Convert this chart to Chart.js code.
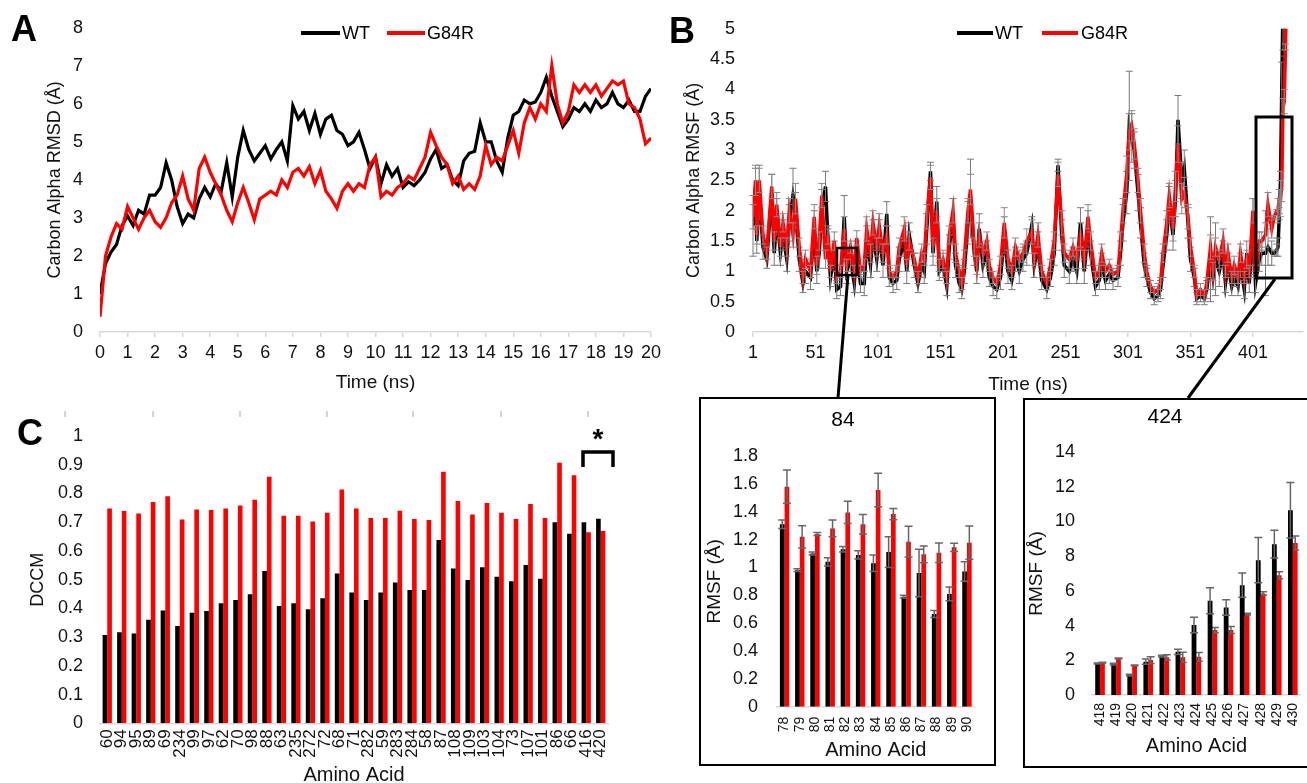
<!DOCTYPE html>
<html><head><meta charset="utf-8">
<script src="https://cdn.jsdelivr.net/npm/chart.js@4.4.0/dist/chart.umd.min.js"></script>
<style>
html,body{margin:0;padding:0;width:1307px;height:783px;overflow:hidden;background:#fff;font-family:"Liberation Sans",Arial,sans-serif;color:#000;}
canvas{position:absolute;}
.t{position:absolute;white-space:nowrap;}
.letter{position:absolute;font-weight:bold;font-size:36px;line-height:1;}
.lg{position:absolute;height:4px;}
.box{position:absolute;box-sizing:border-box;border:2.5px solid #000;}
</style></head><body>

<canvas id="cA" width="670" height="400" style="left:0;top:0;width:670px;height:400px"></canvas>
<canvas id="cB" width="637" height="400" style="left:670px;top:0;width:637px;height:400px"></canvas>
<canvas id="cC" width="670" height="390" style="left:0;top:400px;width:670px;height:390px"></canvas>
<div class="box" style="left:699px;top:397px;width:297px;height:369px"></div>
<div class="box" style="left:1023px;top:398px;width:300px;height:370px"></div>
<canvas id="c84" width="293" height="365" style="left:701px;top:399px;width:293px;height:365px"></canvas>
<canvas id="c424" width="293" height="366" style="left:1025px;top:400px;width:293px;height:366px"></canvas>

<div class="letter" style="left:11px;top:11px">A</div>
<div class="letter" style="left:669px;top:13px">B</div>
<div class="letter" style="left:17px;top:415px">C</div>

<div class="lg" style="left:301px;top:31px;width:39px;background:#000"></div>
<div class="t" style="left:342px;top:24px;font-size:18px;line-height:18px">WT</div>
<div class="lg" style="left:387px;top:31px;width:38px;background:#ff0000"></div>
<div class="t" style="left:427px;top:24px;font-size:18px;line-height:18px">G84R</div>

<div class="lg" style="left:957px;top:31px;width:36px;background:#000"></div>
<div class="t" style="left:995px;top:24px;font-size:18px;line-height:18px">WT</div>
<div class="lg" style="left:1042px;top:31px;width:36px;background:#ff0000"></div>
<div class="t" style="left:1081px;top:24px;font-size:18px;line-height:18px">G84R</div>

<div class="t" style="left:793px;top:407px;width:100px;text-align:center;font-size:21px;line-height:24px">84</div>
<div class="t" style="left:1115px;top:404px;width:100px;text-align:center;font-size:21px;line-height:24px">424</div>
<div class="t" style="left:583px;top:425px;width:30px;text-align:center;font-size:28px;font-weight:bold;line-height:1">*</div>

<svg width="1307" height="783" style="position:absolute;left:0;top:0;pointer-events:none">
  <g stroke="#000" fill="none">
    <rect x="837" y="248" width="20" height="27" stroke-width="2.5"/>
    <rect x="1256" y="117" width="36" height="161" stroke-width="3"/>
    <line x1="848" y1="275" x2="838" y2="398" stroke-width="3"/>
    <line x1="1275" y1="279" x2="1188" y2="398" stroke-width="3"/>
    <polyline points="583,467 583,452 613,452 613,467" stroke-width="3.5"/>
  </g>
  <g stroke="#d4d4d4" stroke-width="2">
    <line x1="65" y1="411" x2="65" y2="417"/><line x1="153" y1="411" x2="153" y2="417"/>
    <line x1="240" y1="411" x2="240" y2="417"/><line x1="327" y1="411" x2="327" y2="417"/>
    <line x1="413" y1="411" x2="413" y2="417"/><line x1="501" y1="411" x2="501" y2="417"/>
    <line x1="588" y1="411" x2="588" y2="417"/>
  </g>
</svg>

<script>
// ---------- Panel A data ----------
const timeA = [0,0.2,0.4,0.6,0.8,1.0,1.2,1.4,1.6,1.8,
2.0,2.2,2.4,2.6,2.8,3.0,3.2,3.4,3.6,3.8,
4.0,4.2,4.4,4.6,4.8,5.0,5.2,5.4,5.6,5.8,
6.0,6.2,6.4,6.6,6.8,7.0,7.2,7.4,7.6,7.8,
8.0,8.2,8.4,8.6,8.8,9.0,9.2,9.4,9.6,9.8,
10.0,10.2,10.4,10.6,10.8,11.0,11.2,11.4,11.6,11.8,
12.0,12.2,12.4,12.6,12.8,13.0,13.2,13.4,13.6,13.8,
14.0,14.2,14.4,14.6,14.8,15.0,15.2,15.4,15.6,15.8,
16.0,16.2,16.4,16.6,16.8,17.0,17.2,17.4,17.6,17.8,
18.0,18.2,18.4,18.6,18.8,19.0,19.2,19.4,19.6,19.8,
20.0];
const rmsdWT = [1.0,1.8,2.1,2.3,2.8,3.05,2.8,3.2,3.1,3.6,
3.6,3.8,4.45,4.0,3.3,2.85,3.1,3.0,3.5,3.8,
3.55,3.9,3.7,4.45,3.55,4.6,5.3,4.8,4.5,4.7,
4.9,4.55,4.8,5.0,4.5,5.95,5.6,5.8,5.3,5.75,
5.2,5.6,5.7,5.3,5.2,4.9,5.0,5.25,4.8,4.3,
4.6,3.9,4.4,4.1,4.3,3.8,3.95,3.85,4.0,4.2,
4.55,4.8,4.3,4.4,4.0,3.85,4.5,4.7,4.75,5.5,
5.0,5.0,4.5,4.2,5.1,5.7,5.8,6.1,6.0,6.05,
6.3,6.7,6.2,5.8,5.4,5.6,5.9,5.8,6.0,5.8,
6.1,5.9,6.0,6.3,6.0,5.9,6.1,5.8,5.8,6.2,
6.4];
const rmsdG84R = [0.4,2.0,2.5,2.85,2.7,3.3,3.0,2.7,3.0,3.2,
2.9,2.75,3.0,3.4,3.6,4.1,3.5,3.2,4.3,4.6,
4.2,3.9,3.6,3.2,2.9,3.4,3.8,3.4,2.95,3.5,
3.6,3.7,3.6,4.0,3.8,4.2,4.3,4.1,4.35,3.9,
4.25,3.7,3.5,3.25,3.7,3.9,3.7,3.9,3.8,4.4,
4.6,3.55,3.7,3.6,3.8,3.9,4.1,4.0,4.3,4.6,
5.25,4.9,4.6,4.4,3.9,4.1,3.75,3.9,3.75,4.1,
4.9,4.4,4.6,4.5,4.9,5.3,4.7,5.5,5.9,5.6,
6.0,5.8,7.0,6.0,5.5,5.8,6.5,6.3,6.5,6.3,
6.5,6.2,6.4,6.6,6.5,6.6,6.0,5.9,5.6,4.95,
5.1];

// ---------- Panel B data ----------
const residueB = [1,3,4,6,9,12,16,18,20,23,
25,28,30,33,35,38,41,43,47,50,
52,54,56,59,61,63,66,68,71,74,
76,79,82,84,87,90,92,95,97,100,
102,105,108,110,113,116,118,122,124,126,
130,133,136,138,140,143,145,148,150,153,
156,158,161,163,166,168,170,173,175,178,
180,182,185,188,190,193,196,199,202,205,
208,211,214,217,220,224,226,229,232,236,
239,242,245,248,250,254,257,260,263,266,
269,271,275,278,280,283,286,289,293,295,
297,300,302,304,306,309,311,314,316,319,
322,325,327,329,332,334,337,339,341,344,
346,349,351,354,356,359,362,364,367,369,
371,374,377,379,381,384,386,389,391,394,
396,398,401,403,406,408,411,413,416,418,
420,421,422,423,424,425,426,427,428,429,
430];
const rmsfWT = [1.75,2.4,1.5,2.3,1.4,1.2,2.3,1.3,1.9,1.3,
1.6,1.2,1.8,2.25,2.0,1.2,0.8,1.0,0.9,1.7,
1.0,1.3,2.0,2.4,1.5,0.9,1.3,0.7,0.75,1.9,
1.0,1.2,0.8,1.3,0.8,0.8,1.5,1.1,1.6,1.2,
1.6,1.1,1.95,0.9,0.8,0.85,1.2,1.5,1.0,1.6,
1.1,0.8,1.1,1.0,1.7,2.65,1.3,2.15,1.0,1.1,
0.75,1.4,1.9,1.1,0.8,0.7,1.0,1.8,2.2,1.3,
1.0,1.7,1.1,1.3,0.9,0.75,0.7,0.9,1.6,1.0,
0.85,1.2,1.0,1.2,1.3,1.75,1.1,1.4,0.85,0.7,
0.9,1.3,2.75,1.6,1.1,1.0,1.2,1.0,1.8,1.0,
1.7,1.3,0.75,0.85,1.1,0.85,0.95,0.85,0.9,1.3,
1.8,2.3,3.4,3.2,3.0,2.3,1.8,1.1,0.9,0.65,
0.55,0.6,0.7,1.1,1.6,2.1,1.6,2.2,3.5,2.5,
2.7,1.8,1.2,0.9,0.55,0.6,0.55,0.7,1.2,0.9,
1.2,1.0,1.3,0.8,1.1,0.75,0.9,0.75,1.1,0.7,
1.3,0.8,1.6,0.8,1.2,1.3,1.3,1.4,1.3,1.3,
1.35,1.4,1.9,2.5,4.0,5.4,5.0,6.3,7.8,8.7,
10.6];
const rmsfG84R = [1.9,2.5,1.6,2.5,1.6,1.3,2.4,1.5,2.1,1.4,
1.8,1.4,2.0,1.6,2.2,1.4,0.9,1.2,1.0,1.9,
1.1,1.5,2.25,1.2,1.6,1.0,1.5,0.9,1.0,1.7,
1.1,1.4,1.0,1.55,1.0,1.1,1.7,1.3,1.8,1.4,
1.75,1.3,1.6,1.0,0.9,1.0,1.4,1.7,1.1,1.5,
1.2,0.9,1.3,1.2,1.9,2.55,1.4,2.0,1.1,1.2,
0.9,1.6,2.0,1.3,1.0,0.8,1.2,2.0,2.35,1.4,
1.1,1.6,1.3,1.5,1.1,0.9,0.8,1.1,1.8,1.2,
1.0,1.4,1.2,1.3,1.5,1.65,1.2,1.6,1.0,0.8,
1.1,1.5,2.6,1.8,1.3,1.2,1.4,1.2,1.6,1.2,
1.9,1.5,0.9,1.0,1.3,1.0,1.1,0.95,1.0,1.5,
2.0,2.6,3.3,3.4,3.1,2.5,2.0,1.3,1.0,0.75,
0.65,0.7,0.8,1.3,1.8,2.25,1.7,2.4,3.1,2.2,
2.3,1.9,1.4,1.0,0.6,0.7,0.6,0.8,1.4,1.0,
1.4,1.2,1.5,1.0,1.3,0.9,1.1,0.9,1.3,0.9,
1.2,1.0,2.0,1.0,1.5,1.5,1.6,2.1,1.7,1.9,
2.0,2.0,2.2,2.2,2.4,3.7,3.8,4.7,5.9,6.9,
8.8];
const errWT_B = [0.5,0.3,0.2,0.45,0.2,0.15,0.3,0.2,0.3,0.2,
0.25,0.2,0.3,0.45,0.3,0.2,0.15,0.2,0.2,0.3,
0.2,0.25,0.35,0.25,0.2,0.15,0.2,0.15,0.15,0.35,
0.2,0.2,0.15,0.2,0.15,0.2,0.25,0.2,0.25,0.2,
0.25,0.2,0.2,0.15,0.15,0.15,0.2,0.25,0.2,0.2,
0.2,0.15,0.2,0.2,0.25,0.15,0.2,0.25,0.15,0.2,
0.15,0.2,0.3,0.2,0.15,0.15,0.2,0.35,0.65,0.2,
0.2,0.25,0.2,0.2,0.15,0.15,0.15,0.2,0.3,0.2,
0.15,0.2,0.2,0.2,0.2,0.15,0.2,0.25,0.15,0.15,
0.15,0.2,0.1,0.25,0.2,0.2,0.2,0.2,0.25,0.2,
0.3,0.2,0.15,0.15,0.2,0.15,0.15,0.15,0.15,0.2,
0.3,0.35,0.9,0.4,0.3,0.3,0.25,0.2,0.15,0.1,
0.1,0.1,0.15,0.2,0.25,0.3,0.25,0.3,0.4,0.3,
0.3,0.25,0.2,0.15,0.1,0.1,0.1,0.15,0.7,0.2,
0.6,0.25,0.2,0.15,0.2,0.15,0.15,0.15,0.2,0.15,
0.2,0.15,0.6,0.15,0.2,0.2,0.7,0.3,0.2,0.05,
0.1,0.15,0.05,0.15,0.45,0.75,0.45,0.7,1.3,0.8,
1.6];
const errG84R_B = [0.2,0.25,0.15,0.2,0.15,0.1,0.2,0.15,0.2,0.15,
0.15,0.15,0.2,0.2,0.25,0.15,0.1,0.15,0.1,0.2,
0.15,0.15,0.2,0.15,0.15,0.1,0.15,0.1,0.1,0.2,
0.1,0.1,0.1,0.12,0.1,0.1,0.2,0.15,0.2,0.15,
0.2,0.15,0.15,0.1,0.1,0.1,0.15,0.2,0.1,0.15,
0.1,0.1,0.15,0.1,0.2,0.2,0.15,0.2,0.1,0.15,
0.1,0.15,0.2,0.15,0.1,0.1,0.15,0.2,0.25,0.15,
0.15,0.2,0.15,0.15,0.1,0.1,0.1,0.15,0.25,0.15,
0.1,0.15,0.15,0.15,0.2,0.2,0.1,0.2,0.1,0.1,
0.1,0.15,0.2,0.2,0.15,0.15,0.15,0.15,0.2,0.15,
0.2,0.15,0.1,0.1,0.15,0.1,0.1,0.1,0.1,0.15,
0.2,0.3,0.3,0.25,0.25,0.2,0.2,0.15,0.1,0.1,
0.1,0.1,0.1,0.15,0.2,0.2,0.2,0.25,0.3,0.25,
0.25,0.2,0.15,0.1,0.1,0.1,0.1,0.1,0.2,0.15,
0.15,0.15,0.2,0.1,0.15,0.1,0.15,0.1,0.15,0.1,
0.15,0.1,0.2,0.1,0.15,0.15,0.2,0.2,0.15,0.02,
0.02,0.2,0.15,0.3,0.25,0.15,0.2,0.05,0.1,0.2,
0.4];
const ticksB = [1,51,101,151,201,251,301,351,401];

// ---------- Panel C data ----------
const aminoC = ['60','94','95','89','69','234','99','97','62','70','98','88','63','235','272','72','68','71','282','59','283','284','58','87','108','109','103','104','73','107','101','86','66','416','420'];
const dccmWT = [0.307,0.317,0.313,0.36,0.393,0.339,0.385,0.391,0.418,0.429,0.449,0.53,0.408,0.418,0.397,0.435,0.521,0.455,0.429,0.455,0.49,0.464,0.464,0.638,0.539,0.499,0.543,0.51,0.494,0.551,0.503,0.70,0.66,0.70,0.712];
const dccmG84R = [0.748,0.739,0.73,0.77,0.79,0.709,0.744,0.742,0.748,0.758,0.778,0.858,0.722,0.722,0.702,0.733,0.814,0.748,0.715,0.715,0.74,0.711,0.708,0.876,0.774,0.727,0.767,0.733,0.711,0.763,0.715,0.907,0.863,0.665,0.669];

// ---------- Inset 84 data ----------
const amino84 = ['78','79','80','81','82','83','84','85','86','87','88','89','90'];
const wt84 = [1.31,0.98,1.10,1.04,1.13,1.09,1.03,1.11,0.79,0.96,0.665,0.81,0.97];
const wt84Err = [0.03,0.01,0.01,0.03,0.02,0.03,0.06,0.11,0.01,0.17,0.025,0.05,0.07];
const g84r84 = [1.58,1.22,1.24,1.28,1.395,1.31,1.556,1.383,1.185,1.094,1.105,1.144,1.178];
const g84r84Err = [0.12,0.08,0.01,0.06,0.08,0.07,0.12,0.04,0.11,0.06,0.07,0.03,0.12];

// ---------- Inset 424 data ----------
const amino424 = ['418','419','420','421','422','423','424','425','426','427','428','429','430'];
const wt424 = [1.82,1.78,1.15,1.92,2.24,2.49,4.03,5.43,5.04,6.33,7.77,8.69,10.64];
const wt424Err = [0.03,0.05,0.05,0.15,0.05,0.15,0.45,0.75,0.45,0.7,1.3,0.8,1.6];
const g84r424 = [1.86,2.11,1.71,2.01,2.17,2.17,2.2,3.74,3.74,4.66,5.85,6.9,8.76];
const g84r424Err = [0.02,0.02,0.02,0.2,0.15,0.3,0.25,0.15,0.2,0.05,0.1,0.2,0.4];

// ---------- common ----------
Chart.defaults.font.family = '"Liberation Sans", Arial, sans-serif';
Chart.defaults.color = '#111';
Chart.defaults.animation = false;
Chart.defaults.plugins.legend.display = false;
Chart.defaults.plugins.tooltip.enabled = false;
const AXIS = '#d9d9d9';
const plain = v => String(+(+v).toFixed(2));

const errorBars = {
  id: 'errorBars',
  afterDatasetDraw(chart, args) {
    const ds = chart.data.datasets[args.index];
    if (!ds.errors) return;
    const meta = args.meta;
    const ys = chart.scales[meta.yAxisID];
    const a = chart.chartArea;
    const ctx = chart.ctx;
    ctx.save();
    ctx.beginPath();
    ctx.rect(a.left - 10, a.top, a.right - a.left + 20, a.bottom - a.top);
    ctx.clip();
    ctx.strokeStyle = ds.errColor;
    ctx.lineWidth = ds.errWidth;
    const cap = ds.errCap;
    meta.data.forEach((el, i) => {
      const v = meta.controller.getParsed(i).y;
      const e = ds.errors[i];
      const x = el.x;
      const y1 = ys.getPixelForValue(v + e), y2 = ys.getPixelForValue(v - e);
      ctx.beginPath();
      ctx.moveTo(x, y1); ctx.lineTo(x, y2);
      ctx.moveTo(x - cap, y1); ctx.lineTo(x + cap, y1);
      ctx.moveTo(x - cap, y2); ctx.lineTo(x + cap, y2);
      ctx.stroke();
    });
    ctx.restore();
  }
};

function xy(xs, ys) { return xs.map((x, i) => ({x: x, y: ys[i]})); }

// ---------- Panel A ----------
new Chart(document.getElementById('cA'), {
  type: 'line',
  data: { datasets: [
    { label: 'G84R', data: xy(timeA, rmsdG84R), borderColor: '#ff0000', borderWidth: 3.2, pointRadius: 0, tension: 0, order: 1 },
    { label: 'WT', data: xy(timeA, rmsdWT), borderColor: '#000000', borderWidth: 3.2, pointRadius: 0, tension: 0, order: 2 }
  ]},
  options: {
    responsive: false,
    layout: { padding: { left: 0, right: 19, top: 25, bottom: 0 } },
    scales: {
      x: { type: 'linear', min: 0, max: 20,
        ticks: { stepSize: 1, font: { size: 18 }, padding: 5, maxRotation: 0, autoSkip: false },
        grid: { display: true, drawOnChartArea: false, drawTicks: true, tickLength: 5, color: AXIS, lineWidth: 1.5 },
        border: { display: true, color: AXIS, width: 1.5 },
        title: { display: true, text: 'Time (ns)', font: { size: 19 }, padding: { top: 0, bottom: 5.6 } },
        afterFit(s) { s.height = 68; } },
      y: { min: 0, max: 8,
        ticks: { stepSize: 1, font: { size: 18 }, padding: 17, callback: plain },
        grid: { display: false, drawTicks: false },
        border: { display: false },
        title: { display: true, text: 'Carbon Alpha RMSD (Å)', font: { size: 18 }, padding: { top: 44.7, bottom: 0 } },
        afterFit(s) { s.width = 100; } }
    }
  }
});

// ---------- Panel B ----------
new Chart(document.getElementById('cB'), {
  type: 'line',
  data: { datasets: [
    { label: 'G84R', data: xy(residueB, rmsfG84R), borderColor: '#ff0000', borderWidth: 3.5, pointRadius: 0, tension: 0, order: 1,
      errors: errG84R_B, errColor: '#8a8a8a', errWidth: 1, errCap: 3.5 },
    { label: 'WT', data: xy(residueB, rmsfWT), borderColor: '#000000', borderWidth: 3.5, pointRadius: 0, tension: 0, order: 2,
      errors: errWT_B, errColor: '#7a7a7a', errWidth: 1, errCap: 3.5 }
  ]},
  plugins: [errorBars],
  options: {
    responsive: false,
    layout: { padding: { left: 0, right: 4, top: 25, bottom: 0 } },
    scales: {
      x: { type: 'linear', min: 1, max: 441,
        afterBuildTicks(s) { s.ticks = ticksB.map(v => ({ value: v })); },
        ticks: { font: { size: 18 }, padding: 5, maxRotation: 0, autoSkip: false, callback: plain },
        grid: { display: true, drawOnChartArea: false, drawTicks: true, tickLength: 5, color: AXIS, lineWidth: 1.5 },
        border: { display: true, color: AXIS, width: 1.5 },
        title: { display: true, text: 'Time (ns)', font: { size: 19 }, padding: { top: 0, bottom: 4 } },
        afterFit(s) { s.height = 68; } },
      y: { min: 0, max: 5,
        ticks: { stepSize: 0.5, font: { size: 18 }, padding: 18, callback: plain },
        grid: { display: false, drawTicks: false },
        border: { display: false },
        title: { display: true, text: 'Carbon Alpha RMSF (Å)', font: { size: 18 }, padding: { top: 13.2, bottom: 0 } },
        afterFit(s) { s.width = 83; } }
    }
  }
});

// ---------- Panel C ----------
new Chart(document.getElementById('cC'), {
  type: 'bar',
  data: { labels: aminoC, datasets: [
    { label: 'WT', data: dccmWT, backgroundColor: '#000000', categoryPercentage: 0.64, barPercentage: 1.0 },
    { label: 'G84R', data: dccmG84R, backgroundColor: '#ff0000', categoryPercentage: 0.64, barPercentage: 1.0 }
  ]},
  options: {
    responsive: false,
    layout: { padding: { left: 0, right: 62, top: 36, bottom: 0 } },
    scales: {
      x: {
        ticks: { font: { size: 17 }, padding: 6, minRotation: 90, maxRotation: 90, autoSkip: false },
        grid: { display: false, drawTicks: false },
        border: { display: true, color: AXIS, width: 1.5 },
        title: { display: true, text: 'Amino Acid', font: { size: 20 }, padding: { top: 0, bottom: 3 } },
        afterFit(s) { s.height = 66.7; } },
      y: { min: 0, max: 1,
        ticks: { stepSize: 0.1, font: { size: 18 }, padding: 17, callback: plain },
        grid: { display: false, drawTicks: false },
        border: { display: false },
        title: { display: true, text: 'DCCM', font: { size: 18 }, padding: { top: 27.2, bottom: 0 } },
        afterFit(s) { s.width = 100; } }
    }
  }
});

// ---------- Inset 84 ----------
new Chart(document.getElementById('c84'), {
  type: 'bar',
  data: { labels: amino84, datasets: [
    { label: 'WT', data: wt84, backgroundColor: '#000000', categoryPercentage: 0.62, barPercentage: 1.0,
      errors: wt84Err, errColor: '#666666', errWidth: 1.5, errCap: 4 },
    { label: 'G84R', data: g84r84, backgroundColor: '#ff0000', categoryPercentage: 0.62, barPercentage: 1.0,
      errors: g84r84Err, errColor: '#666666', errWidth: 1.5, errCap: 4 }
  ]},
  plugins: [errorBars],
  options: {
    responsive: false,
    layout: { padding: { left: 0, right: 6, top: 57, bottom: 0 } },
    scales: {
      x: {
        ticks: { font: { size: 14 }, padding: 10, minRotation: 90, maxRotation: 90, autoSkip: false },
        grid: { display: false, drawTicks: false },
        border: { display: true, color: AXIS, width: 1.5 },
        title: { display: true, text: 'Amino Acid', font: { size: 20 }, padding: { top: 0, bottom: 2 } },
        afterFit(s) { s.height = 57.3; } },
      y: { min: 0, max: 1.8,
        ticks: { stepSize: 0.2, font: { size: 18 }, padding: 19, callback: plain },
        grid: { display: false, drawTicks: false },
        border: { display: false },
        title: { display: true, text: 'RMSF (Å)', font: { size: 19 }, padding: { top: 2.6, bottom: 0 } },
        afterFit(s) { s.width = 76; } }
    }
  }
});

// ---------- Inset 424 ----------
new Chart(document.getElementById('c424'), {
  type: 'bar',
  data: { labels: amino424, datasets: [
    { label: 'WT', data: wt424, backgroundColor: '#000000', categoryPercentage: 0.6, barPercentage: 1.0,
      errors: wt424Err, errColor: '#666666', errWidth: 1.5, errCap: 4 },
    { label: 'G84R', data: g84r424, backgroundColor: '#ff0000', categoryPercentage: 0.6, barPercentage: 1.0,
      errors: g84r424Err, errColor: '#666666', errWidth: 1.5, errCap: 4 }
  ]},
  plugins: [errorBars],
  options: {
    responsive: false,
    layout: { padding: { left: 0, right: 10, top: 52, bottom: 0 } },
    scales: {
      x: {
        ticks: { font: { size: 14 }, padding: 8, minRotation: 90, maxRotation: 90, autoSkip: false },
        grid: { display: false, drawTicks: false },
        border: { display: true, color: AXIS, width: 1.5 },
        title: { display: true, text: 'Amino Acid', font: { size: 20 }, padding: { top: 0, bottom: 8 } },
        afterFit(s) { s.height = 71; } },
      y: { min: 0, max: 14,
        ticks: { stepSize: 2, font: { size: 18 }, padding: 17, callback: plain },
        grid: { display: false, drawTicks: false },
        border: { display: false },
        title: { display: true, text: 'RMSF (Å)', font: { size: 19 }, padding: { top: 0.6, bottom: 0 } },
        afterFit(s) { s.width = 67; } }
    }
  }
});
</script>
</body></html>
